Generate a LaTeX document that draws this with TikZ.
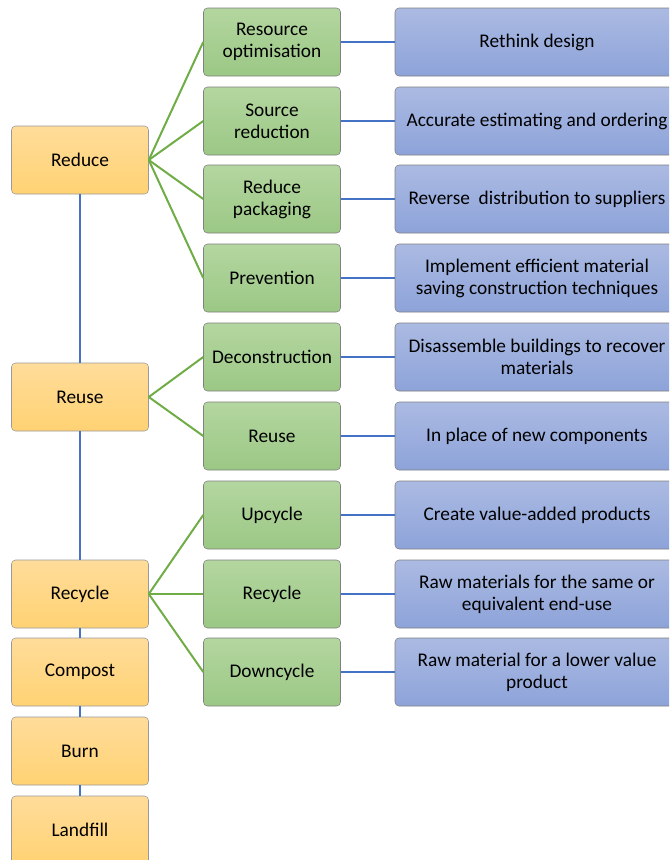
\documentclass[tikz,border=0pt]{standalone}
\usepackage{fontspec}
\setmainfont{Carlito}
\definecolor{lineblue}{HTML}{4472C4}
\definecolor{linegreen}{HTML}{70AD47}
\definecolor{orangetop}{HTML}{FFDC9A}
\definecolor{orangebot}{HTML}{FFD273}
\definecolor{greentop}{HTML}{B4D6A0}
\definecolor{greenbot}{HTML}{9BC885}
\definecolor{bluetop}{HTML}{ABBAE2}
\definecolor{bluebot}{HTML}{8DA3D9}
\tikzset{
	stage/.style={draw=black!40, rounded corners=3pt, top color=orangetop, bottom color=orangebot, minimum width=102.75pt, minimum height=51pt, align=center, font=\fontsize{14.5}{16.5}\selectfont},
	method/.style={draw=black!50, rounded corners=3pt, top color=greentop, bottom color=greenbot, minimum width=102.75pt, minimum height=51pt, align=center, font=\fontsize{14.5}{16.5}\selectfont},
	action/.style={draw=black!50, rounded corners=3pt, top color=bluetop, bottom color=bluebot, minimum width=213pt, minimum height=51pt, align=center, font=\fontsize{14.5}{16.5}\selectfont},
}
\begin{document}
\begin{tikzpicture}[x=0.75pt, y=-0.75pt]
	%\draw[help lines] (0,0) grid (669,860);
	\useasboundingbox (0,0) rectangle (669,860);
	\clip (0,0) rectangle (669,860);
	
	\node [stage] (reduce) at (80, 160) {Reduce};
	\node [stage] (reuse) at (80, 397) {Reuse};
	\node [stage] (recycle) at (80, 594) {Recycle};
	\node [stage] (compost) at (80, 672) {Compost};
	\node [stage] (burn) at (80, 751) {Burn};
	\node [stage] (landfill) at (80, 830) {Landfill};
	
	\node [method] (optim) at (272, 42) {Resource\\optimisation};
	\node [method] (source) at (272, 121) {Source\\reduction};
	\node [method] (packaging) at (272, 199) {Reduce\\packaging};
	\node [method] (prevention) at (272, 278) {Prevention};
	\node [method] (decon) at (272, 357) {Deconstruction};
	\node [method] (reusem) at (272, 436) {Reuse};
	\node [method] (upcycle) at (272, 515) {Upcycle};
	\node [method] (recyclem) at (272, 594) {Recycle};
	\node [method] (downcycle) at (272, 672) {Downcycle};
	
	\node [action] (rethink) at (537, 42) {Rethink design};
	\node [action] (accurate) at (537, 121) {Accurate estimating and ordering};
	\node [action] (reverse) at (537, 199) {Reverse~ distribution to suppliers};
	\node [action] (efficient) at (537, 278) {Implement efficient material\\saving construction techniques};
	\node [action] (disassemble) at (537, 357) {Disassemble buildings to recover\\materials};
	\node [action] (newcomp) at (537, 436) {In place of new components};
	\node [action] (valueadd) at (537, 515) {Create value-added products};
	\node [action] (rawsame) at (537, 594) {Raw materials for the same or\\equivalent end-use};
	\node [action] (rawlower) at (537, 672) {Raw material for a lower value\\product};
	
	% spine
	\draw [lineblue, line width=0.8pt] (reduce) -- (reuse);
	\draw [lineblue, line width=0.8pt] (reuse) -- (recycle);
	\draw [lineblue, line width=0.8pt] (recycle) -- (compost);
	\draw [lineblue, line width=0.8pt] (compost) -- (burn);
	\draw [lineblue, line width=0.8pt] (burn) -- (landfill);
	
	% branches
	\draw [linegreen, line width=1.5pt] (reduce.east) -- (optim.west);
	\draw [linegreen, line width=1.5pt] (reduce.east) -- (source.west);
	\draw [linegreen, line width=1.5pt] (reduce.east) -- (packaging.west);
	\draw [linegreen, line width=1.5pt] (reduce.east) -- (prevention.west);
	\draw [linegreen, line width=1.5pt] (reuse.east) -- (decon.west);
	\draw [linegreen, line width=1.5pt] (reuse.east) -- (reusem.west);
	\draw [linegreen, line width=1.5pt] (recycle.east) -- (upcycle.west);
	\draw [linegreen, line width=1.5pt] (recycle.east) -- (recyclem.west);
	\draw [linegreen, line width=1.5pt] (recycle.east) -- (downcycle.west);
	
	\draw [lineblue, line width=1.2pt] (optim) -- (rethink);
	\draw [lineblue, line width=1.2pt] (source) -- (accurate);
	\draw [lineblue, line width=1.2pt] (packaging) -- (reverse);
	\draw [lineblue, line width=1.2pt] (prevention) -- (efficient);
	\draw [lineblue, line width=1.2pt] (decon) -- (disassemble);
	\draw [lineblue, line width=1.2pt] (reusem) -- (newcomp);
	\draw [lineblue, line width=1.2pt] (upcycle) -- (valueadd);
	\draw [lineblue, line width=1.2pt] (recyclem) -- (rawsame);
	\draw [lineblue, line width=1.2pt] (downcycle) -- (rawlower);
	
\end{tikzpicture}
\end{document}
